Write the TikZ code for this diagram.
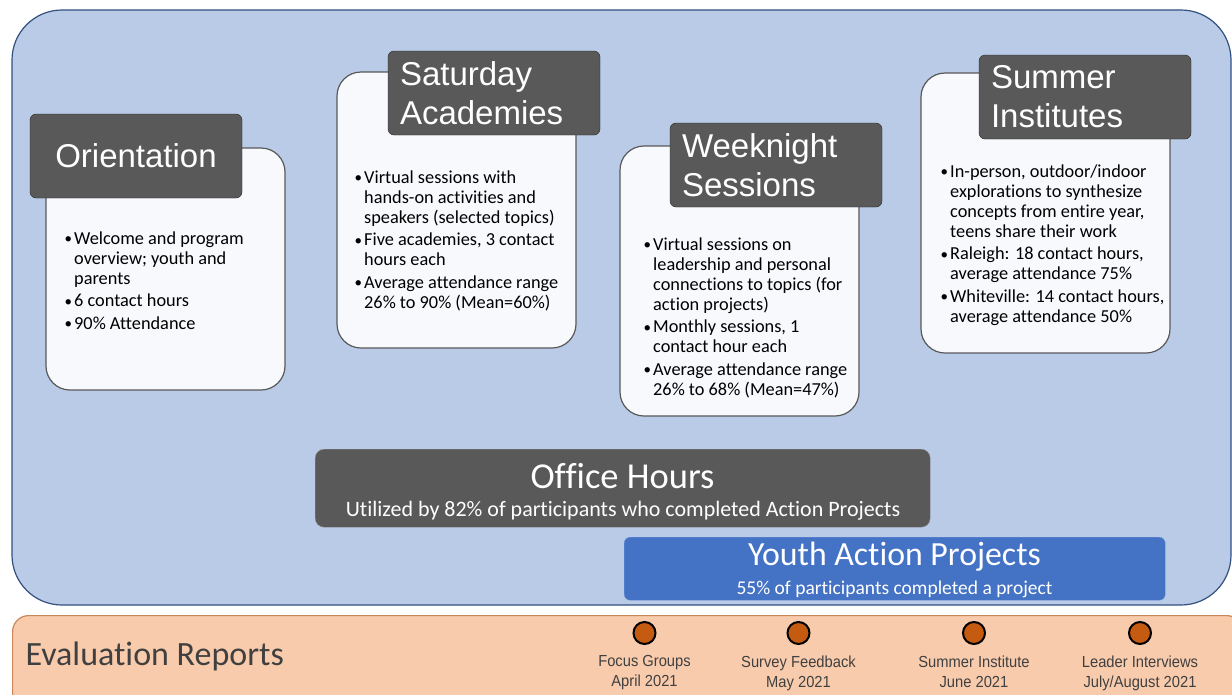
\documentclass[tikz,border=0pt]{standalone}
\usepackage{fontspec}
\setmainfont{Carlito}[Ligatures=NoCommon]
\newfontfamily\headfont{Liberation Sans}
\newfontfamily\datefont[FakeStretch=0.92]{Liberation Sans}
\usetikzlibrary{positioning}

\definecolor{panelblue}{HTML}{B9CBE7}
\definecolor{paneledge}{HTML}{34507F}
\definecolor{headgrey}{HTML}{595959}
\definecolor{cardwhite}{HTML}{F7F9FD}
\definecolor{evalfill}{HTML}{F8CBAD}
\definecolor{evaledge}{HTML}{C9875B}
\definecolor{dotfill}{HTML}{C55A11}
\definecolor{projblue}{HTML}{4472C4}
\definecolor{projedge}{HTML}{6D92D6}
\definecolor{textgrey}{HTML}{404040}

% bullet line and its continuation
\newcommand{\bitem}{\makebox[11pt][l]{\hspace{1.5pt}\raisebox{0.5pt}{\fontsize{15}{15}\selectfont\textbullet}}}
\newcommand{\bcont}{\hspace*{11pt}}

\begin{document}
\begin{tikzpicture}[
  x = 1pt,
  y = -1pt,
  panel/.style = {
    draw = paneledge,
    line width = 1.2pt,
    fill = panelblue,
    rounded corners = 50pt,
    anchor = north west,
    inner sep = 0,
    outer sep = 0,
  },
  card/.style = {
    draw = black!65,
    line width = 1.2pt,
    fill = cardwhite,
    rounded corners = 24pt,
    anchor = north west,
    inner sep = 0,
    outer sep = 0,
    minimum width = 239pt,
  },
  head/.style = {
    draw = black!85,
    fill = headgrey,
    rounded corners = 6pt,
    text = white,
    font = \headfont\fontsize{33}{39}\selectfont,
    anchor = north west,
    minimum width = 212pt,
    minimum height = 84pt,
    inner xsep = 12pt,
    outer sep = 0,
  },
  bullets/.style = {
    anchor = north west,
    inner sep = 0,
    align = left,
    text = black,
    font = \fontsize{18.3}{20}\selectfont,
  },
  dot/.style = {
    draw = black,
    line width = 2pt,
    fill = dotfill,
    circle,
    minimum size = 22pt,
    inner sep = 0,
  },
  datelabel/.style = {
    align = center,
    inner sep = 0,
    text = textgrey,
    font = \datefont\fontsize{16}{20}\selectfont,
  },
]

  \useasboundingbox (0,0) rectangle (1232,694);

  % program panel
  \node[panel, minimum width=1219pt, minimum height=595pt] (program) at (12,10) {};

  % orientation
  \node[card, minimum height=242pt] (orientcard) at (46,148) {};
  \node[head, text width=188pt, align=center] (orienthead) at (30,114) {Orientation};
  \node[bullets] (orienttxt) at (63,231.5) {%
    \bitem Welcome and program\\
    \bcont overview; youth and\\
    \bcont parents\\[2.5pt]
    \bitem 6 contact hours\\[2.5pt]
    \bitem 90\% Attendance};

  % saturday academies
  \node[card, minimum height=276pt] (satcard) at (337,72) {};
  \node[head, text width=188pt, align=left] (sathead) at (388,51) {Saturday\\Academies};
  \node[bullets] (sattxt) at (353,170.5) {%
    \bitem Virtual sessions with\\
    \bcont hands-on activities and\\
    \bcont speakers (selected topics)\\[2.5pt]
    \bitem Five academies, 3 contact\\
    \bcont hours each\\[2.5pt]
    \bitem Average attendance range\\
    \bcont 26\% to 90\% (Mean=60\%)};

  % weeknight sessions
  \node[card, minimum height=270pt] (weekcard) at (620,146) {};
  \node[head, text width=188pt, align=left] (weekhead) at (670,123) {Weeknight\\Sessions};
  \node[bullets] (weektxt) at (642,237.5) {%
    \bitem Virtual sessions on\\
    \bcont leadership and personal\\
    \bcont connections to topics (for\\
    \bcont action projects)\\[2.5pt]
    \bitem Monthly sessions, 1\\
    \bcont contact hour each\\[2.5pt]
    \bitem Average attendance range\\
    \bcont 26\% to 68\% (Mean=47\%)};

  % summer institutes
  \node[card, minimum width=249pt, minimum height=280pt] (sumcard) at (921,73) {};
  \node[head, text width=188pt, align=left] (sumhead) at (979,55) {Summer\\Institutes};
  \node[bullets] (sumtxt) at (939,164.5) {%
    \bitem In-person, outdoor/indoor\\
    \bcont explorations to synthesize\\
    \bcont concepts from entire year,\\
    \bcont teens share their work\\[2.5pt]
    \bitem Raleigh: 18 contact hours,\\
    \bcont average attendance 75\%\\[2.5pt]
    \bitem Whiteville: 14 contact hours,\\
    \bcont average attendance 50\%};

  % office hours
  \node[draw=black!45, fill=headgrey, rounded corners=9pt, anchor=north west,
        minimum width=615pt, minimum height=78pt, inner sep=0] (office) at (315,449) {};
  \node[text=white, font=\fontsize{36.5}{40}\selectfont] (officetitle) at (622.5,476) {Office Hours};
  \node[text=white, font=\fontsize{22}{24}\selectfont] (officesub) at (623,511)
    {Utilized by 82\% of participants who completed Action Projects};

  % youth action projects
  \node[draw=projedge, fill=projblue, rounded corners=6pt, anchor=north west,
        minimum width=541pt, minimum height=63pt, inner sep=0] (youth) at (624,537) {};
  \node[text=white, font=\fontsize{33.8}{38}\selectfont] (youthtitle) at (894.5,557) {Youth Action Projects};
  \node[text=white, font=\fontsize{19.5}{22}\selectfont] (youthsub) at (894.5,589)
    {55\% of participants completed a project};

  % evaluation reports
  \node[draw=evaledge, line width=1.2pt, fill=evalfill, rounded corners=16pt, anchor=north west,
        minimum width=1230pt, minimum height=110pt, inner sep=0] (evalbar) at (12,615) {};
  \node[anchor=west, text=textgrey, font=\fontsize{34}{38}\selectfont] (evaltitle) at (22,656)
    {Evaluation Reports};

  \node[dot] (dot1) at (644.5,633) {};
  \node[dot] (dot2) at (798.5,633) {};
  \node[dot] (dot3) at (974,633) {};
  \node[dot] (dot4) at (1140,633) {};

  \node[datelabel, below=10.5pt of dot1] (date1) {Focus Groups\\April 2021};
  \node[datelabel, below=10.5pt of dot2] (date2) {Survey Feedback\\May 2021};
  \node[datelabel, below=10.5pt of dot3] (date3) {Summer Institute\\June 2021};
  \node[datelabel, below=10.5pt of dot4] (date4) {Leader Interviews\\July/August 2021};
\end{tikzpicture}
\end{document}
